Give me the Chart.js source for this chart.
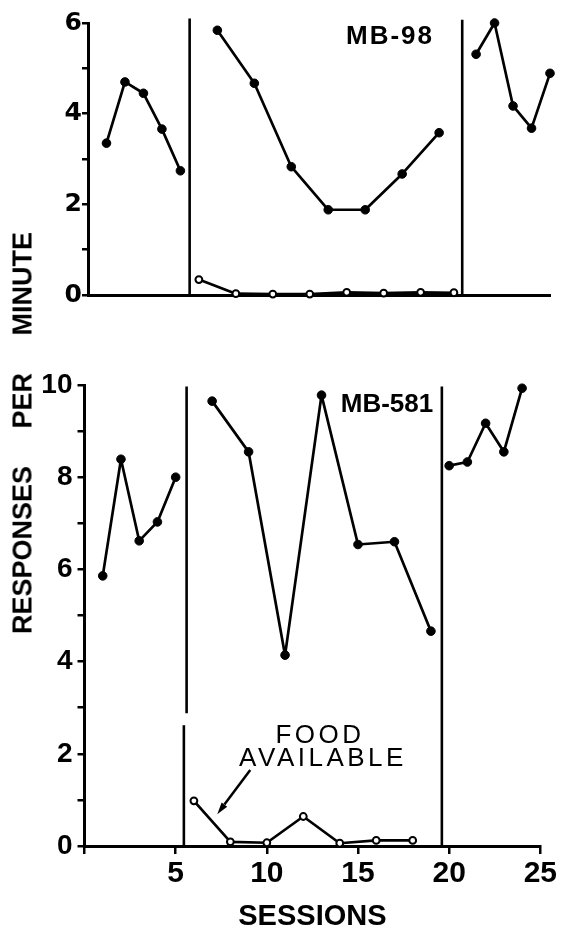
<!DOCTYPE html>
<html><head><meta charset="utf-8">
<script src="https://cdn.jsdelivr.net/npm/chart.js@4/dist/chart.umd.min.js"></script>
<style>
html,body{margin:0;padding:0;background:#fff;}
#wrap{position:relative;width:562px;height:931px;overflow:hidden;background:#fff;}
canvas{position:absolute;left:0;top:0;}
.lbl{position:absolute;font-family:"Liberation Sans",Arial,sans-serif;color:#000;white-space:nowrap;transform:translate(-50%,-50%);line-height:1;}
</style></head><body>
<div id="wrap">
<canvas id="c1" width="562" height="931"></canvas>
<canvas id="c2" width="562" height="931"></canvas>
<div class="lbl" style="left:390px;top:35px;font-size:26px;font-weight:bold;letter-spacing:2px;">MB-98</div>
<div class="lbl" style="left:387px;top:403px;font-size:26px;font-weight:bold;">MB-581</div>
<div class="lbl" style="left:320px;top:734px;font-size:26px;letter-spacing:3.5px;">FOOD</div>
<div class="lbl" style="left:323px;top:757px;font-size:26px;letter-spacing:3.5px;">AVAILABLE</div>
<div class="lbl" style="left:23px;top:433px;font-size:27px;font-weight:bold;word-spacing:30px;transform:translate(-50%,-50%) rotate(-90deg);">RESPONSES PER MINUTE</div>
</div>
<script>
// ---- Data: MB-98 (top panel) ----
const topSessionsA = [1, 2, 3, 4, 5];
const topRatesA    = [3.35, 4.70, 4.45, 3.66, 2.74];
const topSessionsB = [7, 9, 11, 13, 15, 17, 19];
const topRatesB    = [5.84, 4.67, 2.83, 1.88, 1.88, 2.67, 3.58];
const topSessionsC = [21, 22, 23, 24, 25];
const topRatesC    = [5.31, 6.00, 4.17, 3.68, 4.89];
const topFoodSessions = [6, 8, 10, 12, 14, 16, 18, 19.8];
const topFoodRates    = [0.34, 0.03, 0.02, 0.02, 0.06, 0.04, 0.06, 0.05];
const topPhaseSessions = [5.5, 20.25];
const topPhaseTops     = [6.1, 6.07];

// ---- Data: MB-581 (bottom panel) ----
const botSessionsA = [1, 2, 3, 4, 5];
const botRatesA    = [5.86, 8.39, 6.62, 7.03, 8.00];
const botSessionsB = [7, 9, 11, 13, 15, 17, 19];
const botRatesB    = [9.65, 8.55, 4.14, 9.78, 6.54, 6.60, 4.66];
const botSessionsC = [20, 21, 22, 23, 24];
const botRatesC    = [8.25, 8.33, 9.17, 8.55, 9.93];
const botFoodSessions = [6, 8, 10, 12, 14, 16, 18];
const botFoodRates    = [0.98, 0.09, 0.07, 0.64, 0.06, 0.12, 0.12];
const botPhaseSessions = [5.45, 5.6, 19.6];

// ---- Axis tick labels ----
const topYTickLabels = [0, 2, 4, 6];
const botYTickLabels = [0, 2, 4, 6, 8, 10];
const xTickLabels = [5, 10, 15, 20, 25];

// ---- Annotation arrow (session, rate) ----
const arrowFrom = [9.09, 1.65];
const arrowTo   = [7.28, 0.69];

function series(xs, ys, filled){
  return {
    type:'line',
    data: xs.map((s,i)=>({x:s, y:ys[i]})),
    borderColor:'#000', borderWidth:2.7, borderJoinStyle:'round', tension:0, fill:false, clip:false,
    pointRadius: filled ? 4.3 : 3.4,
    pointBackgroundColor: filled ? '#000' : '#fff',
    pointBorderColor:'#000',
    pointBorderWidth: filled ? 1 : 2,
    pointHoverRadius: 0,
    order: 0
  };
}
function vline(xv, y0, y1){
  return { type:'line', data:[{x:xv,y:y0},{x:xv,y:y1}], borderColor:'#000', borderWidth:2.6, pointRadius:0, clip:false, order:1 };
}

Chart.defaults.color = '#000';
Chart.defaults.font.family = '"Liberation Sans", Arial, sans-serif';

const commonOpts = {
  responsive:false, animation:false, devicePixelRatio:1,
  plugins:{legend:{display:false}, tooltip:{enabled:false}},
  events:[]
};

const tickGrid = {display:true, drawOnChartArea:false, drawTicks:true, tickLength:6, tickWidth:2.5, tickColor:'#000', color:'#000', lineWidth:2.5};

new Chart(document.getElementById('c1'), {
  type:'line',
  data:{ datasets:[
    series(topSessionsA, topRatesA, true),
    series(topSessionsB, topRatesB, true),
    series(topSessionsC, topRatesC, true),
    series(topFoodSessions, topFoodRates, false),
    vline(topPhaseSessions[0], 0, topPhaseTops[0]),
    vline(topPhaseSessions[1], 0, topPhaseTops[1])
  ]},
  options: Object.assign({}, commonOpts, {
    layout:{autoPadding:false, padding:{left:0, top:23, right:12, bottom:636}},
    scales:{
      x:{type:'linear', min:0, max:25, ticks:{display:false}, grid:{display:false},
         border:{display:true, color:'#000', width:3}, afterFit(s){ s.height = 0; }},
      y:{type:'linear', min:0, max:6,
         ticks:{stepSize:1, autoSkip:false, padding:0, color:'#000',
                font:{family:'"DejaVu Sans"', weight:'bold', size:25},
                callback:v => topYTickLabels.includes(v) ? String(v) : ''},
         grid:tickGrid, border:{display:true, color:'#000', width:3},
         afterFit(s){ s.width = 88; }}
    }
  })
});

const arrowPlugin = {
  id:'foodArrow',
  afterDatasetsDraw(chart){
    const {ctx, scales:{x, y}} = chart;
    const x0 = x.getPixelForValue(arrowFrom[0]), y0 = y.getPixelForValue(arrowFrom[1]);
    const x1 = x.getPixelForValue(arrowTo[0]),   y1 = y.getPixelForValue(arrowTo[1]);
    const ang = Math.atan2(y1 - y0, x1 - x0);
    const hl = 12, hw = 3.5;
    const bx = x1 - hl*Math.cos(ang), by = y1 - hl*Math.sin(ang);
    ctx.save();
    ctx.strokeStyle = '#000'; ctx.fillStyle = '#000'; ctx.lineWidth = 2.5;
    ctx.beginPath(); ctx.moveTo(x0, y0); ctx.lineTo(bx, by); ctx.stroke();
    ctx.beginPath(); ctx.moveTo(x1, y1);
    ctx.lineTo(bx + hw*Math.sin(ang), by - hw*Math.cos(ang));
    ctx.lineTo(bx - hw*Math.sin(ang), by + hw*Math.cos(ang));
    ctx.closePath(); ctx.fill();
    ctx.restore();
  }
};

new Chart(document.getElementById('c2'), {
  type:'line',
  data:{ datasets:[
    series(botSessionsA, botRatesA, true),
    series(botSessionsB, botRatesB, true),
    series(botSessionsC, botRatesC, true),
    series(botFoodSessions, botFoodRates, false),
    vline(botPhaseSessions[0], 0, 2.62),
    vline(botPhaseSessions[1], 2.88, 9.97),
    vline(botPhaseSessions[2], 0, 9.97)
  ]},
  plugins:[arrowPlugin],
  options: Object.assign({}, commonOpts, {
    layout:{autoPadding:false, padding:{left:0, top:385, right:17.4, bottom:0}},
    scales:{
      x:{type:'linear', min:0, max:25,
         ticks:{stepSize:5, autoSkip:false, padding:5, color:'#000',
                font:{family:'"Liberation Sans"', weight:'bold', size:30, lineHeight:1},
                callback:v => xTickLabels.includes(v) ? String(v) : ''},
         grid:Object.assign({}, tickGrid, {tickLength:8}),
         border:{display:true, color:'#000', width:3},
         title:{display:true, text:'SESSIONS', color:'#000', padding:{top:0, bottom:0},
                font:{family:'"Liberation Sans"', weight:'bold', size:29, lineHeight:1}},
         afterFit(s){ s.height = 85; }},
      y:{type:'linear', min:0, max:10,
         ticks:{stepSize:1, autoSkip:false, padding:5, color:'#000',
                font:{family:'"Liberation Sans"', weight:'bold', size:28},
                callback:v => botYTickLabels.includes(v) ? String(v) : ''},
         grid:Object.assign({}, tickGrid, {tickLength:7}),
         border:{display:true, color:'#000', width:3},
         afterFit(s){ s.width = 84.5; }}
    }
  })
});
</script>
</body></html>
